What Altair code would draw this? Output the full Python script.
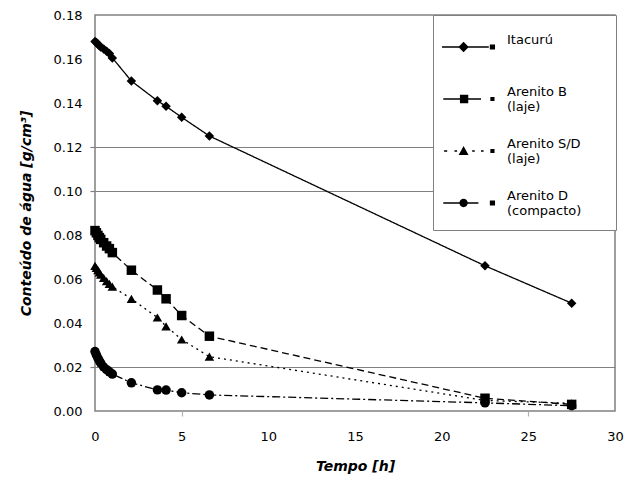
import altair as alt
import pandas as pd

series = ["Itacurú", "Arenito B (laje)", "Arenito S/D (laje)", "Arenito D (compacto)"]
tempo = [0, 0.08, 0.17, 0.25, 0.33, 0.5, 0.67, 0.83, 1.0, 2.1, 3.6, 4.1, 5.0, 6.6, 22.5, 27.5]
itacuru = [0.168, 0.1675, 0.1668, 0.166, 0.1654, 0.1645, 0.1635, 0.1625, 0.1605, 0.150, 0.141, 0.1385, 0.1335, 0.125, 0.066, 0.049]
arenito_b = [0.082, 0.081, 0.0798, 0.0788, 0.078, 0.0765, 0.075, 0.0738, 0.072, 0.064, 0.055, 0.051, 0.0434, 0.034, 0.0058, 0.003]
arenito_sd = [0.066, 0.065, 0.064, 0.063, 0.062, 0.0605, 0.059, 0.0578, 0.0565, 0.051, 0.0425, 0.0385, 0.0325, 0.0247, 0.0048, 0.0035]
arenito_d = [0.027, 0.0255, 0.024, 0.0228, 0.0218, 0.020, 0.0188, 0.0178, 0.0168, 0.0128, 0.0096, 0.0095, 0.0083, 0.0073, 0.0037, 0.0024]
grid_values = [0.02, 0.10, 0.12]
y_ticks = [0.0, 0.02, 0.04, 0.06, 0.08, 0.10, 0.12, 0.14, 0.16, 0.18]
x_ticks = [0, 5, 10, 15, 20, 25, 30]
x_marked = [5, 25]

rows = []
for name, vals in zip(series, [itacuru, arenito_b, arenito_sd, arenito_d]):
    for t, v in zip(tempo, vals):
        rows.append({"serie": name, "t": t, "v": v})
df = pd.DataFrame(rows)

FONT = "DejaVu Sans"
GRAY = "#808080"

# ---- legend symbol paths (line + marker + small end marker), unit space [-1, 1]
LH = 0.028
BOX = 0.8  # invisible vertical extent, gives every legend row the same height


def seg(x0, x1, h=LH):
    return f"M{x0},{-h}L{x1},{-h}L{x1},{h}L{x0},{h}Z"


def diamond(cx, r):
    return f"M{cx},{-r}L{cx + r},0L{cx},{r}L{cx - r},0Z"


def square(cx, r):
    return seg(cx - r, cx + r, r)


def tri(cx, r):
    return f"M{cx},{-r}L{cx + r},{r * 0.8}L{cx - r},{r * 0.8}Z"


def circ(cx, r):
    return f"M{cx - r},0A{r},{r} 0 1,1 {cx + r},0A{r},{r} 0 1,1 {cx - r},0Z"


frame = f"M0,{-BOX}ZM0,{BOX}Z"
sym_ita = seg(-1, 0.8) + diamond(-0.17, 0.2) + square(0.94, 0.1) + frame
sym_b = seg(-0.95, 0.5) + square(-0.15, 0.16) + square(0.94, 0.08) + frame
sym_sd = (seg(-0.92, -0.8) + seg(-0.52, -0.42) + tri(-0.17, 0.19)
          + seg(0.16, 0.26) + seg(0.5, 0.6) + square(0.94, 0.08) + frame)
sym_d = seg(-0.95, 0.4) + circ(-0.17, 0.16) + square(0.94, 0.1) + frame

grid_test = " || ".join(f"abs(datum.value - {g}) < 1e-6" for g in grid_values)
xtick_test = " || ".join(f"datum.value == {v}" for v in x_marked)

# first line of two-line legend labels is padded so the legend box reaches the frame
pad = "       \u200b"
label_expr = f"split(replace(datum.label, ' (', '{pad}|('), '|')"

x_enc = alt.X(
    "t:Q",
    scale=alt.Scale(domain=[0, 30], nice=False),
    axis=alt.Axis(values=x_ticks, title="Tempo  [h]", grid=False, labelPadding=14,
                  titlePadding=16, format="d", tickColor="#b0b0b0", labelFlush=False,
                  tickOpacity={"condition": {"test": xtick_test, "value": 1}, "value": 0}),
)
y_enc = alt.Y(
    "v:Q",
    scale=alt.Scale(domain=[0, 0.18], nice=False),
    axis=alt.Axis(values=y_ticks, format=".2f",
                  title="Conteúdo de água [g/cm³]", grid=True, gridColor=GRAY,
                  gridWidth=1.2, labelFlush=False,
                  gridOpacity={"condition": {"test": grid_test, "value": 1}, "value": 0},
                  tickOpacity={"condition": {"test": grid_test, "value": 1}, "value": 0},
                  labelPadding=8, titlePadding=20),
)

lines = alt.Chart(df).mark_line(color="black", strokeWidth=1.3).encode(
    x=x_enc,
    y=y_enc,
    strokeDash=alt.StrokeDash(
        "serie:N",
        scale=alt.Scale(domain=series, range=[[1, 0], [7, 4], [2, 4], [8, 3, 2, 3]]),
        legend=None,
    ),
    order="t:Q",
)

points = alt.Chart(df).mark_point(filled=True, size=90, color="black", opacity=1).encode(
    x=x_enc,
    y=y_enc,
    shape=alt.Shape(
        "serie:N",
        scale=alt.Scale(domain=series, range=["diamond", "square", "triangle-up", "circle"]),
        legend=None,
    ),
)

legend_layer = alt.Chart(df).transform_filter("datum.t < -1").mark_point(
    filled=True, size=2704, color="black", opacity=1
).encode(
    x=x_enc,
    y=y_enc,
    shape=alt.Shape(
        "serie:N",
        scale=alt.Scale(domain=series, range=[sym_ita, sym_b, sym_sd, sym_d]),
        legend=alt.Legend(
            title=None,
            orient="none",
            legendX=338,
            legendY=0,
            strokeColor=GRAY,
            fillColor="white",
            padding=6,
            symbolOffset=3,
            labelFont=FONT,
            labelFontSize=13,
            labelOffset=13,
            labelBaseline="bottom",
            rowPadding=5,
            symbolSize=2704,
            symbolStrokeWidth=0,
            symbolFillColor="black",
            labelExpr=label_expr,
        ),
    ),
)

chart = (
    alt.layer(lines, points, legend_layer)
    .resolve_scale(shape="independent")
    .properties(
        width=520,
        height=396,
        padding={"left": 87, "top": 7, "right": 9, "bottom": 68},
        autosize=alt.AutoSizeParams(type="none"),
        background="white",
    )
    .configure_view(stroke=GRAY, strokeWidth=1.5)
    .configure_axis(
        labelFont=FONT,
        labelFontSize=13,
        labelColor="black",
        titleFont=FONT,
        titleFontSize=14,
        titleFontWeight="bold",
        titleFontStyle="italic",
        titleColor="black",
        domain=False,
        tickColor=GRAY,
        tickSize=5,
        tickWidth=1.2,
    )
)

chart.save("out.html", embed_options={"renderer": "svg", "actions": False})
